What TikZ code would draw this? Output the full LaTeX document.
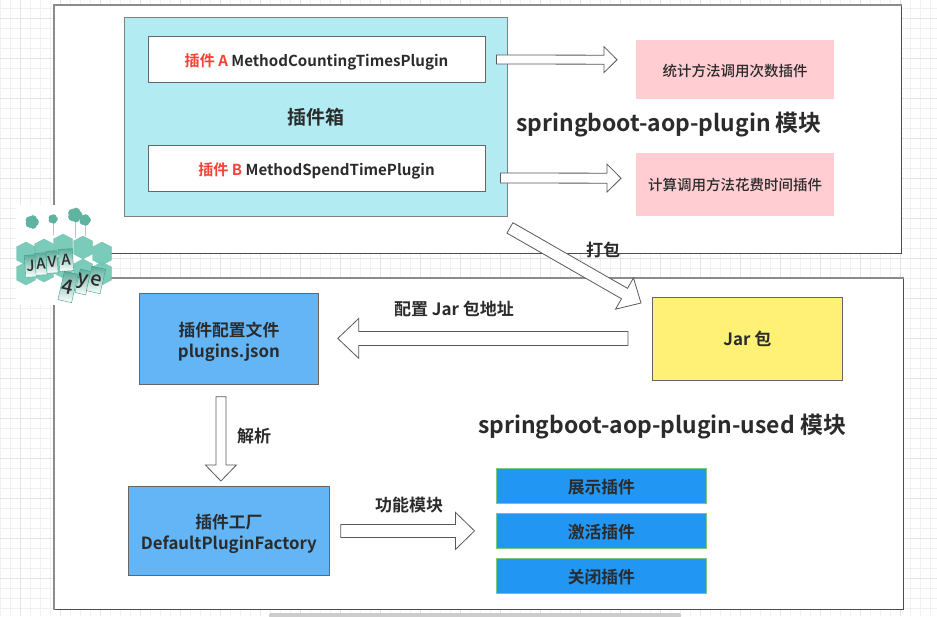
\documentclass[tikz,border=0pt]{standalone}
\usepackage{fontspec}
\setmainfont{Noto Sans CJK SC}[BoldFont={Noto Sans CJK SC Bold}]
\newfontfamily\notefont{Noto Sans CJK SC Medium}
\usetikzlibrary{calc,positioning}
\definecolor{tealbox}{HTML}{B2EBF2}
\definecolor{pinknote}{HTML}{FFCDD2}
\definecolor{jaryellow}{HTML}{FFF176}
\definecolor{skyblue}{HTML}{64B5F6}
\definecolor{barblue}{HTML}{2196F3}
\definecolor{bargreen}{HTML}{81C784}
\definecolor{inkgray}{HTML}{2B2B2B}
\definecolor{redlabel}{HTML}{F44336}
\definecolor{logoteal}{HTML}{6CC7B3}
\definecolor{logodark}{HTML}{3F9E8A}
\definecolor{gridminor}{HTML}{F1F1F1}
\definecolor{gridmajor}{HTML}{E4E4E4}
\newcommand{\shaftw}{5pt}
\newcommand{\headw}{14pt}
\newcommand{\headl}{14pt}
\newcommand{\lowtext}[2][2.5pt]{\raisebox{-#1}[\height][\depth]{#2}}
\tikzset{
    modulebox/.style={draw=black!70, line width=0.8pt, fill=white},
    graytrim/.style={draw=black!45, line width=1.3pt},
    pluginbox/.style={draw=black!60, line width=0.9pt, fill=white, minimum width=337pt, minimum height=46pt, font=\bfseries\fontsize{15.1}{17}\selectfont, text=inkgray},
    notebox/.style={fill=pinknote, minimum width=198pt, font=\notefont\fontsize{14.5}{16}\selectfont, text=inkgray},
    bluebox/.style={draw=black!60, line width=0.8pt, fill=skyblue, align=center, font=\bfseries\fontsize{16.8}{21}\selectfont, text=inkgray},
    barbox/.style={draw=bargreen, line width=0.8pt, fill=barblue, minimum width=210pt, minimum height=35pt, font=\bfseries\fontsize{16.8}{18}\selectfont, text=inkgray},
    caption/.style={font=\bfseries\fontsize{17}{19}\selectfont, text=inkgray},
    title/.style={font=\bfseries\fontsize{22.9}{25}\selectfont, text=inkgray},
    blockarrow/.style={draw=black!65, line width=0.8pt, fill=white, to path={
        ($(\tikztotarget)!\headl!(\tikztostart)$) coordinate (hb)
        ($(\tikztostart)!\shaftw!90:(hb)$) -- ($(hb)!\shaftw!90:(\tikztotarget)$)
        -- ($(hb)!\headw!90:(\tikztotarget)$) -- (\tikztotarget)
        -- ($(hb)!\headw!-90:(\tikztotarget)$) -- ($(hb)!\shaftw!-90:(\tikztotarget)$)
        -- ($(\tikztostart)!\shaftw!-90:(hb)$) -- cycle}},
    hexcube/.style={fill=logoteal, draw=logodark!70, line width=0.3pt, fill opacity=0.9},
    logocard/.style={draw=logodark, line width=0.4pt, top color=logodark!85, bottom color=white, inner sep=0pt, minimum width=11pt, minimum height=22pt, font=\notefont\fontsize{15}{15}\selectfont, text=inkgray},
    bigcard/.style={logocard, font=\notefont\fontsize{20}{20}\selectfont},
}
\begin{document}
\begin{tikzpicture}[x=1pt, y=-1pt]
    \useasboundingbox (0,0) rectangle (937,616);
    % grid behind everything
    \fill[white] (0,0) rectangle (937,616);
    \foreach \gx in {0,10,...,930}
        \draw[gridminor, line width=0.8pt] (\gx,0) -- (\gx,616);
    \foreach \gy in {8,18,...,608}
        \draw[gridminor, line width=0.8pt] (0,\gy) -- (937,\gy);
    \foreach \gx in {20,60,...,900}
        \draw[gridmajor, line width=0.8pt] (\gx,0) -- (\gx,616);
    \foreach \gy in {18,58,...,578}
        \draw[gridmajor, line width=0.8pt] (0,\gy) -- (937,\gy);

    % the two modules
    \node[modulebox, minimum width=847pt, minimum height=248pt, anchor=north west, inner sep=0pt] (topModule) at (54,5) {};
    \node[modulebox, minimum width=849pt, minimum height=331pt, anchor=north west, inner sep=0pt] (usedModule) at (54,278) {};
    \draw[graytrim] (topModule.south west) -- (topModule.north west) -- (topModule.north east);
    \draw[graytrim] (usedModule.south west) -- (usedModule.north west) -- (usedModule.north east);

    % logo
    \fill[white] (16,205) rectangle (110,305);
    \foreach \hx/\hy in {26/273, 44/270, 63/266, 83/270, 102/273, 26/253, 44/250, 63/245, 83/247, 102/253} {
        \draw[hexcube] (\hx,\hy-11) -- (\hx+9.5,\hy-6) -- (\hx+9.5,\hy+7) -- (\hx,\hy+12) -- (\hx-9.5,\hy+7) -- (\hx-9.5,\hy-6) -- cycle;
        \draw[logodark!60, line width=0.3pt] (\hx-9.5,\hy-6) -- (\hx,\hy-1) -- (\hx+9.5,\hy-6) (\hx,\hy-1) -- (\hx,\hy+12);
    }
    \draw[black!25, line width=0.4pt] (53,222) -- (53,235) (75,220) -- (75,238) (85,225) -- (85,236);
    \foreach \fx/\fy/\fr in {32/222/6.5, 53/219/4.5, 75/215/7, 85/220/5.5} {
        \foreach \fa in {0,72,...,288}
            \fill[logoteal!90!black] (\fx,\fy) ++(\fa:\fr*0.45) circle (\fr*0.62);
    }
    \node[logocard, rotate=3] (cardJ) at (30.5,266) {J};
    \node[logocard, rotate=3] (cardA) at (41,264) {A};
    \node[logocard, rotate=3] (cardV) at (52,262) {V};
    \node[logocard, rotate=3, minimum width=14pt] (cardAb) at (66,260) {A};
    \node[bigcard, rotate=-13, minimum height=29pt, minimum width=14pt] (card4) at (68,287) {4};
    \node[bigcard, rotate=-13, minimum height=24pt, minimum width=11pt] (cardY) at (83,282) {y};
    \node[bigcard, rotate=-13, minimum height=25pt, minimum width=14pt] (cardE) at (96,280) {e};

    % plugin box
    \node[draw=black!50, line width=0.9pt, fill=tealbox, minimum width=383pt, minimum height=199pt, anchor=north west, inner sep=0pt] (pluginCase) at (124,17) {};
    \node[pluginbox, inner sep=0pt] (pluginA) at (316.5,59) {\lowtext{\textcolor{redlabel}{插件 A} MethodCountingTimesPlugin}};
    \node[pluginbox, inner sep=0pt] (pluginB) at (316.5,168) {\lowtext{\textcolor{redlabel}{插件 B} MethodSpendTimePlugin}};
    \node[font=\bfseries\fontsize{19}{21}\selectfont, text=inkgray, inner sep=0pt] (caseLabel) at (316,117) {插件箱};

    % notes on the right
    \node[notebox, minimum height=59pt, anchor=north west, inner sep=0pt] (countNote) at (636,40) {\lowtext[1pt]{统计方法调用次数插件}};
    \node[notebox, minimum height=63pt, anchor=north west, inner sep=0pt] (timeNote) at (636,153) {计算调用方法花费时间插件};
    \node[title, inner sep=0pt] (topTitle) at (669,125) {springboot-aop-plugin 模块};

    % Jar and the used module
    \node[draw=black!60, line width=0.8pt, fill=jaryellow, minimum width=190pt, minimum height=83pt, anchor=north west, inner sep=0pt, font=\bfseries\fontsize{17}{19}\selectfont, text=inkgray] (jarBox) at (652,297) {Jar 包};
    \node[bluebox, minimum width=179pt, minimum height=91pt, anchor=north west, inner sep=0pt] (configBox) at (139,293) {\lowtext{插件配置文件}\\\lowtext{plugins.json}};
    \node[bluebox, minimum width=201pt, minimum height=89pt, anchor=north west, inner sep=0pt] (factoryBox) at (128,486) {\lowtext{插件工厂}\\\lowtext{DefaultPluginFactory}};
    \node[title, inner sep=0pt] (usedTitle) at (662,427) {springboot-aop-plugin-used 模块};

    \node[barbox, anchor=north west, inner sep=0pt] (showBar) at (496,468) {\lowtext[1.5pt]{展示插件}};
    \node[barbox, anchor=north west, inner sep=0pt] (activeBar) at (496,513) {\lowtext[1.5pt]{激活插件}};
    \node[barbox, anchor=north west, inner sep=0pt] (closeBar) at (496,558) {\lowtext[1.5pt]{关闭插件}};

    % block arrows
    \def\shaftw{4.5pt}\def\headw{13pt}\def\headl{13pt}
    \draw[blockarrow] ([shift={(11pt,-0.5pt)}]pluginA.east) to ([shift={(-19pt,10pt)}]countNote.west);
    \def\shaftw{5pt}\def\headw{14pt}\def\headl{14pt}
    \draw[blockarrow] ([shift={(15pt,-10pt)}]pluginB.east) to ([shift={(-15pt,6.5pt)}]timeNote.west);
    \def\shaftw{6pt}\def\headw{18pt}\def\headl{19pt}
    \draw[blockarrow] ([shift={(2pt,-11pt)}]pluginCase.south east) to ([shift={(-11pt,-6pt)}]jarBox.north west);
    \def\shaftw{7pt}\def\headw{20pt}\def\headl{21pt}
    \draw[blockarrow] ([shift={(-24pt,0.5pt)}]jarBox.west) to ([shift={(19pt,0.5pt)}]configBox.east);
    \def\shaftw{5pt}\def\headw{15.5pt}\def\headl{16pt}
    \draw[blockarrow] ([shift={(-8pt,-12pt)}]configBox.south) to ([shift={(-8pt,5pt)}]factoryBox.north);
    \def\shaftw{6.5pt}\def\headw{18.5pt}\def\headl{19pt}
    \draw[blockarrow] ([xshift=11pt]factoryBox.east) to ([shift={(-21.5pt,0)}]activeBar.west);

    % connector labels
    \node[caption, inner sep=0pt] (packLabel) at (603,250) {打包};
    \node[caption, inner sep=0pt] (addrLabel) at (454,309) {配置 Jar 包地址};
    \node[caption, inner sep=0pt] (parseLabel) at (254,436) {解析};
    \node[caption, inner sep=0pt] (moduleLabel) at (409,505) {功能模块};

    % scroll bar at the bottom
    \fill[black!20, rounded corners=2pt] (269,613) rectangle (681,618);
\end{tikzpicture}
\end{document}
